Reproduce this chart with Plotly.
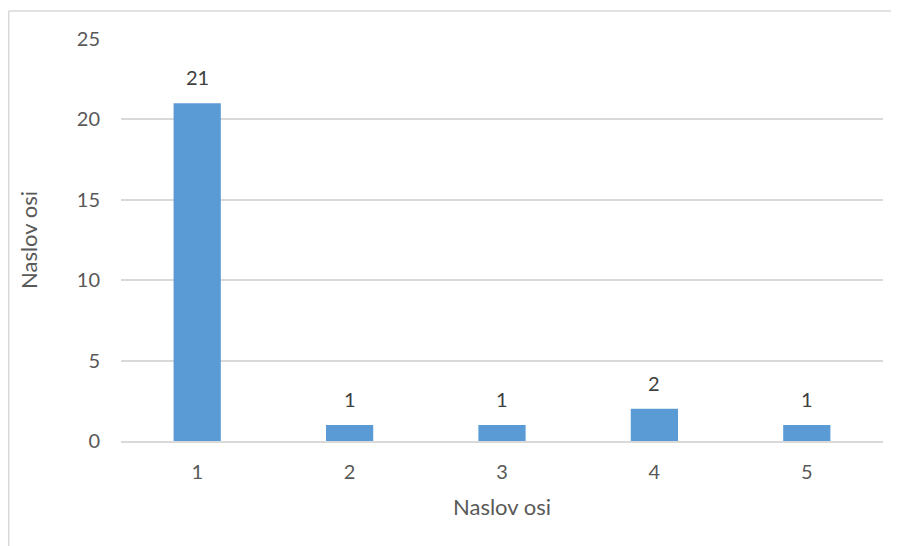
import plotly.graph_objects as go

categories = [1, 2, 3, 4, 5]
values = [21, 1, 1, 2, 1]
y_ticks = [0, 5, 10, 15, 20, 25]
x_title = "Naslov osi"
y_title = "Naslov osi"

FONT = "Lato"
TXT = "#595959"
LBL = "#404040"
GRID = "#D9D9D9"
BAR = "#5B9BD5"

# page body has an 8px margin, so the figure is 8px smaller than the window
W, H = 891, 538
L, R, T, B = 113, 16, 31, 105
pw, ph = W - L - R, H - T - B

fig = go.Figure()
fig.add_trace(go.Bar(x=categories, y=values, marker=dict(color=BAR, line=dict(width=0)),
                     width=0.31, showlegend=False))

for c, v in zip(categories, values):
    fig.add_annotation(x=c, y=v, text=str(v), showarrow=False, yanchor="middle",
                       yshift=26, font=dict(family=FONT, size=20, color=LBL))

# outer chart border (cropped: only left & top visible)
bx = (0.75 - L) / pw
by = 1 + (T - 3) / ph
fig.add_shape(type="line", xref="paper", yref="paper", x0=bx, x1=bx, y0=by, y1=-(B + 5) / ph,
              line=dict(color=GRID, width=1.5))
fig.add_shape(type="line", xref="paper", yref="paper", x0=bx, x1=(W - L + 5) / pw, y0=by, y1=by,
              line=dict(color=GRID, width=1.5))

fig.update_layout(
    width=W, height=H,
    margin=dict(l=L, r=R, t=T, b=B, pad=0),
    paper_bgcolor="white", plot_bgcolor="white",
    font=dict(family=FONT, size=20, color=TXT),
    xaxis=dict(range=[0.5, 5.5], tickvals=categories, ticktext=[str(c) for c in categories],
               showgrid=False, zeroline=False, showline=True, linecolor=GRID, linewidth=1.5,
               ticks="", ticklabelstandoff=12, tickfont=dict(size=20, color=TXT),
               title=dict(text=x_title, font=dict(size=22, color=TXT), standoff=18)),
    yaxis=dict(range=[0, 25], tickvals=y_ticks, showgrid=True, gridcolor=GRID, gridwidth=1.5,
               zeroline=False, showline=False, ticks="", ticklabelstandoff=20,
               tickfont=dict(size=20, color=TXT),
               title=dict(text=y_title, font=dict(size=22, color=TXT), standoff=33)),
)

fig.write_html("out.html")
